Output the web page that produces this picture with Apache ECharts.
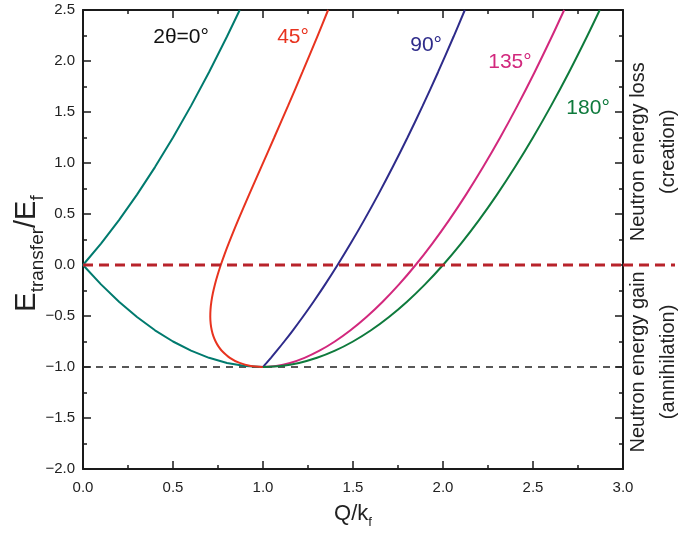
<!DOCTYPE html>
<html><head><meta charset="utf-8">
<script src="https://cdn.jsdelivr.net/npm/echarts@6/dist/echarts.min.js"></script>
<style>html,body{margin:0;padding:0;background:#fff}#c{width:691px;height:533px}</style>
</head><body><div id="c"></div>
<script>
// Energy transfer E/Ef (shared grid of points for 0°, 90°, 135°, 180°)
const energy = [-1,-0.99,-0.96,-0.91,-0.84,-0.75,-0.64,-0.51,-0.36,-0.19,0,0.21,0.44,0.69,0.96,1.25,1.56,1.89,2.24,2.5];
const q0   = [1,0.9,0.8,0.7,0.6,0.5,0.4,0.3,0.2,0.1,0,0.1,0.2,0.3,0.4,0.5,0.6,0.7,0.8,0.8708];
const q90  = [1,1.0050,1.0198,1.0440,1.0770,1.1180,1.1662,1.2207,1.2806,1.3454,1.4142,1.4866,1.5620,1.6401,1.7205,1.8028,1.8868,1.9723,2.0591,2.1213];
const q135 = [1,1.0730,1.1502,1.2306,1.3137,1.3990,1.4861,1.5748,1.6648,1.7558,1.8478,1.9405,2.0340,2.1280,2.2226,2.3176,2.4130,2.5088,2.6049,2.6732];
const q180 = [1,1.1,1.2,1.3,1.4,1.5,1.6,1.7,1.8,1.9,2.0,2.1,2.2,2.3,2.4,2.5,2.6,2.7,2.8,2.8708];
// 45° curve (denser near its turning point)
const energy45 = [-1,-0.99,-0.96,-0.91,-0.84,-0.7975,-0.75,-0.6975,-0.64,-0.5775,-0.51,-0.4375,-0.36,-0.2775,-0.19,-0.0975,0,0.1025,0.21,0.44,0.69,0.96,1.25,1.56,1.89,2.24,2.5];
const q45 = [1,0.9320,0.8701,0.8159,0.7709,0.7524,0.7368,0.7243,0.7152,0.7094,0.7071,0.7084,0.7132,0.7214,0.7329,0.7477,0.7654,0.7858,0.8089,0.8619,0.9228,0.9900,1.0624,1.1390,1.2189,1.3017,1.3617];
// reference lines
const zeroLine = [[0,0],[3,0]];
const minusOneLine = [[0,-1],[3,-1]];
// labels
const curveNames = ['2θ=0°','45°','90°','135°','180°'];
const curveLabelAt = [[0.545,2.235],[1.167,2.235],[1.906,2.157],[2.372,1.99],[2.806,1.54]];
const xTicks = [0,0.5,1,1.5,2,2.5,3];
const yTicks = [-2,-1.5,-1,-0.5,0,0.5,1,1.5,2,2.5];
const sideLabels = ['Neutron energy loss\n(creation)','Neutron energy gain\n(annihilation)'];
const sideLabelY = [1.11,-0.95];

const FONT = '"Liberation Sans", Arial, Helvetica, sans-serif';
const colors = ['#007a6e','#e8331f','#2e2b8a','#d2287d','#0e7a3c'];
const labelColors = ['#111','#e8331f','#2e2b8a','#d2287d','#0e7a3c'];
const zip = (xs, ys) => xs.map((x,i)=>[x, ys[i]]);
const curves = [zip(q0,energy), zip(q45,energy45), zip(q90,energy), zip(q135,energy), zip(q180,energy)];

const axisCommon = {
  type:'value',
  axisLine:{show:true,onZero:false,lineStyle:{color:'#1a1a1a',width:2}},
  axisTick:{show:true,inside:true,length:8,lineStyle:{color:'#1a1a1a',width:1.5}},
  minorTick:{show:true,splitNumber:2,length:4,lineStyle:{color:'#1a1a1a',width:1.5}},
  splitLine:{show:false},
  minorSplitLine:{show:false}
};
const fmt = v => v.toFixed(1).replace('-','\u2212');

const chart = echarts.init(document.getElementById('c'), null, {renderer:'canvas'});
const option = {
  animation:false,
  backgroundColor:'#fff',
  grid:{left:83,right:68,top:10,bottom:64,containLabel:false,outerBoundsMode:'none'},
  xAxis:[
    Object.assign({}, axisCommon, {position:'bottom',min:xTicks[0],max:xTicks[xTicks.length-1],interval:0.5,
      axisLabel:{show:true,margin:11,fontSize:15,color:'#222',fontFamily:FONT,formatter:fmt},
      name:'{a|Q/k}{b|f}',nameLocation:'middle',nameGap:30,nameMoveOverlap:false,
      nameTextStyle:{rich:{a:{fontSize:22,fontFamily:FONT,color:'#222',lineHeight:30},b:{fontSize:13,fontFamily:FONT,color:'#222',verticalAlign:'bottom',lineHeight:30}}}}),
    Object.assign({}, axisCommon, {position:'top',min:xTicks[0],max:xTicks[xTicks.length-1],interval:0.5,axisLabel:{show:false}})
  ],
  yAxis:[
    Object.assign({}, axisCommon, {position:'left',min:yTicks[0],max:yTicks[yTicks.length-1],interval:0.5,
      axisLabel:{show:true,margin:8,fontSize:15,color:'#222',fontFamily:FONT,formatter:fmt},
      name:'{a|E}{b|transfer}{a|/E}{b|f}',nameLocation:'middle',nameGap:36,nameRotate:90,nameMoveOverlap:false,
      nameTextStyle:{padding:[0,28,0,0],rich:{a:{fontSize:29,fontFamily:FONT,color:'#222',lineHeight:40},b:{fontSize:19,fontFamily:FONT,color:'#222',verticalAlign:'bottom',lineHeight:40}}}}),
    Object.assign({}, axisCommon, {position:'right',min:yTicks[0],max:yTicks[yTicks.length-1],interval:0.5,axisLabel:{show:false}})
  ],
  series: curves.map((d,i)=>({
    type:'line', data:d, showSymbol:false, symbol:'none', smooth: i===0 ? false : 0.3,
    lineStyle:{color:colors[i],width:2}, z:3, clip:true
  })).concat([
    {type:'line',data:minusOneLine,showSymbol:false,symbol:'none',lineStyle:{color:'#222',width:1.3,type:[7,6]},z:2},
    {type:'line',data:zeroLine,showSymbol:false,symbol:'none',lineStyle:{color:'#b8232b',width:3,type:[10,6]},z:5}
  ])
};
chart.setOption(option);

const px = (x,y) => chart.convertToPixel({xAxisIndex:0,yAxisIndex:0},[x,y]);
const graphics = [];
curveNames.forEach((t,i)=>{
  const p = px(curveLabelAt[i][0], curveLabelAt[i][1]);
  graphics.push({type:'text',x:p[0],y:p[1],z:10,style:{text:t,fill:labelColors[i],font:'21px '+FONT,align:'center',verticalAlign:'middle'}});
});
const right = px(3,0);
graphics.push({type:'line',z:5,shape:{x1:right[0],y1:right[1],x2:right[0]+52,y2:right[1]},style:{stroke:'#b8232b',lineWidth:3,lineDash:[10,6]}});
sideLabels.forEach((t,i)=>{
  const p = px(3, sideLabelY[i]);
  graphics.push({type:'text',x:p[0]+30,y:p[1],rotation:Math.PI/2,z:10,style:{text:t,fill:'#222',font:'20px '+FONT,align:'center',verticalAlign:'middle',lineHeight:30}});
});
chart.setOption({graphic:graphics});
</script></body></html>
